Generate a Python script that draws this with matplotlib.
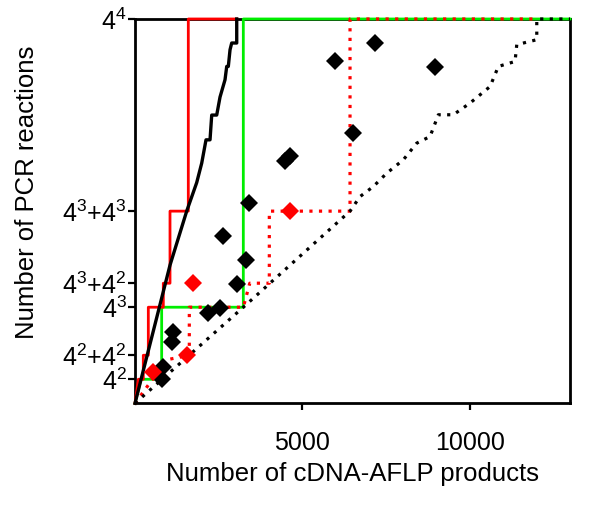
import matplotlib
matplotlib.use('Agg')
import matplotlib.pyplot as plt

plt.rcParams['font.family'] = ['Liberation Sans', 'DejaVu Sans']
plt.rcParams['mathtext.fontset'] = 'custom'
plt.rcParams['mathtext.rm'] = 'Liberation Sans'
plt.rcParams['mathtext.it'] = 'Liberation Sans'
plt.rcParams['mathtext.default'] = 'regular'

# black solid staircase
black_x = [0, 1046, 1545, 1844, 1994, 2122, 2242, 2293, 2442, 2541, 2690, 2741, 2789, 2840, 2890, 3040, 3040]
black_y = [0, 92, 128, 147, 160, 175.5, 175.5, 192, 192, 204, 215.5, 224.4, 224.4, 235.5, 240, 240, 256]

# black dotted
bdot_x = [0, 3237, 6426, 6725, 7123, 7523, 8019, 8420, 8817, 9066, 9514, 10013, 10611, 10859, 11358, 11409,
          12007, 12007, 13000]
bdot_y = [0, 64, 128, 137.7, 144.4, 153.3, 162.2, 173.3, 177.7, 192.2, 192.2, 200, 211, 224.4, 227.7, 238.9,
          242.2, 256, 256]

# red solid
red_x = [0, 100, 248, 248, 398, 398, 846, 846, 1046, 1046, 1593, 1593, 3040]
red_y = [0, 16, 16, 32, 32, 64, 64, 80, 80, 128, 128, 256, 256]

# red dotted
rdot_x = [0, 950, 1623, 1623, 3237, 3430, 4014, 4014, 6426, 6426, 12007]
rdot_y = [0, 29, 32, 64, 64, 80, 80, 128, 128, 256, 256]

# green solid
green_x = [0, 180, 797, 797, 3237, 3237, 13000]
green_y = [0, 16, 16, 64, 64, 256, 256]

# diamonds
black_pts_x = [7173, 5978, 8967, 6525, 4633, 4484, 3417, 2640, 3318, 3040, 2541, 2191, 1146, 1116, 846, 797]
black_pts_y = [240, 227.7, 223.7, 180, 164.4, 161.1, 133.3, 111.7, 95.5, 79.5, 63.5, 60, 47.7, 41, 24, 16]
red_pts_x = [4633, 1724, 1545, 548]
red_pts_y = [128, 80, 32, 21]

y_ticks = [16, 32, 64, 80, 128, 256]
y_labels = ['4$^{2}$', '4$^{2}$+4$^{2}$', '4$^{3}$', '4$^{3}$+4$^{2}$', '4$^{3}$+4$^{3}$', '4$^{4}$']
x_ticks = [5000, 10000]

fig = plt.figure(figsize=(6, 5.05), dpi=100)
ax = fig.add_axes([0.225, 0.2014, 0.725, 0.761])

dots = (0, (1, 2))
ax.plot(green_x, green_y, color='#00ee00', lw=2.0, zorder=3, clip_on=False)
ax.plot(red_x, red_y, color='red', lw=2.0, zorder=4, clip_on=False)
ax.plot(rdot_x, rdot_y, color='red', lw=2.3, ls=dots, zorder=5, clip_on=False)
ax.plot(bdot_x, bdot_y, color='black', lw=2.3, ls=dots, zorder=6, clip_on=False)
ax.plot(black_x, black_y, color='black', lw=2.4, zorder=7, clip_on=False)
ax.plot(black_pts_x, black_pts_y, 'D', color='black', ms=9.5, mew=0, zorder=8, clip_on=False)
ax.plot(red_pts_x, red_pts_y, 'D', color='red', ms=9.5, mew=0, zorder=9, clip_on=False)

ax.set_xlim(0, 13000)
ax.set_ylim(0, 256)
ax.set_xticks(x_ticks)
ax.set_xticklabels([str(t) for t in x_ticks])
ax.set_yticks(y_ticks)
ax.set_yticklabels(y_labels)
ax.tick_params(axis='both', direction='out', length=5, width=1.6, labelsize=18)
ax.tick_params(axis='x', pad=15)
ax.tick_params(axis='y', pad=1)
for s in ax.spines.values():
    s.set_linewidth(2)

fig.text(352 / 600, 1 - 474 / 505, 'Number of cDNA-AFLP products', ha='center', va='center', fontsize=18.5)
fig.text(27 / 600, 1 - 192 / 505, 'Number of PCR reactions', ha='center', va='center', rotation=90,
         fontsize=18.5)

fig.savefig('out.png', dpi=100)
